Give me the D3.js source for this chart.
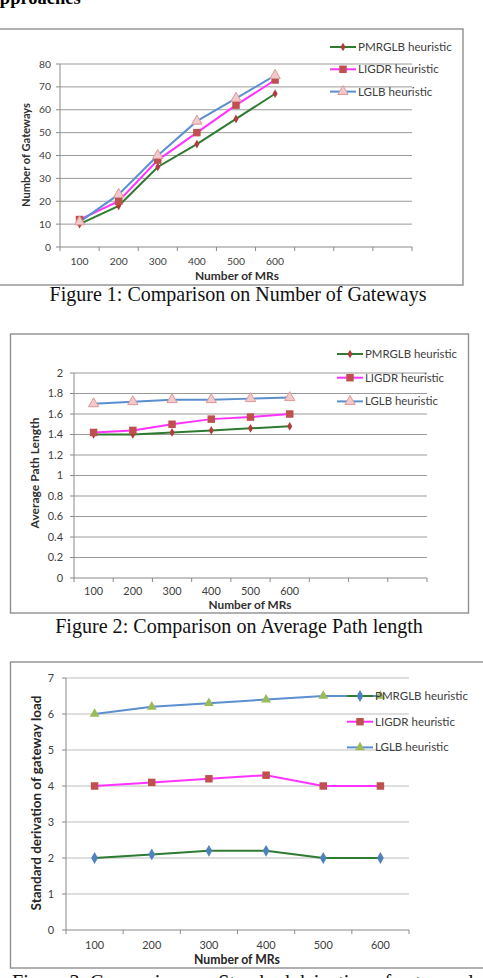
<!DOCTYPE html>
<html lang="en">
<head>
<meta charset="UTF-8"/>
<title>Gateway comparison</title>
<script src="https://d3js.org/d3.v7.min.js"></script>
<style>
  body { margin: 0; background: white; }
  svg text { font-family: Lato, "Open Sans", sans-serif; }
  svg text.serif { font-family: "Liberation Serif", "DejaVu Serif", serif; }
</style>
</head>
<body>
<script>
var w = 483;
var h = 978;

// shared categories and legend names
var mrs = ["100", "200", "300", "400", "500", "600"];
var names = ["PMRGLB heuristic", "LIGDR heuristic", "LGLB heuristic"];

// Figure 1: number of gateways
var gwPmrglb = [10, 18, 35, 45, 56, 67];
var gwLigdr  = [12, 20, 38, 50, 62, 73];
var gwLglb   = [11, 23, 40, 55, 65, 75];
var gwTicks  = [0, 10, 20, 30, 40, 50, 60, 70, 80];

// Figure 2: average path length
var plPmrglb = [1.4, 1.4, 1.42, 1.44, 1.46, 1.48];
var plLigdr  = [1.42, 1.44, 1.5, 1.55, 1.57, 1.6];
var plLglb   = [1.7, 1.72, 1.74, 1.74, 1.75, 1.76];
var plTicks  = [0, 0.2, 0.4, 0.6, 0.8, 1, 1.2, 1.4, 1.6, 1.8, 2];

// Figure 3: standard deviation of gateway load
var sdPmrglb = [2, 2.1, 2.2, 2.2, 2, 2];
var sdLigdr  = [4, 4.1, 4.2, 4.3, 4, 4];
var sdLglb   = [6, 6.2, 6.3, 6.4, 6.5, 6.5];
var sdTicks  = [0, 1, 2, 3, 4, 5, 6, 7];

var svg = d3.select("body")
            .append("svg")
            .attr("width", w)
            .attr("height", h)
            .style("display", "block");

// font size that makes a string come out at the wanted width
function fitSize(str, target, weight, cls) {
	var t = svg.append("text")
	           .attr("class", cls || null)
	           .style("font-size", "100px")
	           .style("font-weight", weight || "normal")
	           .text(str);
	var len = t.node().getComputedTextLength();
	t.remove();
	return 100 * target / len;
}

// cut-off heading at the very top
svg.append("text")
   .attr("class", "serif")
   .attr("x", -13.5)
   .attr("y", 4)
   .style("font-size", "18.5px")
   .style("font-weight", "bold")
   .text("Approaches");

function marker(g, kind, cx, cy, st) {
	var sym = d3.symbol().type(kind === "diamond" ? d3.symbolDiamond :
	                           kind === "square" ? d3.symbolSquare : d3.symbolTriangle)
	                     .size(st.size);
	g.append("path")
	 .attr("d", sym())
	 .attr("transform", "translate(" + cx + "," + cy + ")")
	 .attr("fill", st.fill)
	 .attr("stroke", st.mstroke || "none")
	 .attr("stroke-width", 1);
}

function drawChart(c) {
	var g = svg.append("g");

	var tickSize = fitSize("100", c.fit.tick);
	var xtSize = fitSize("Number of MRs", c.fit.xTitle, "bold");
	var ytSize = fitSize(c.yLabel, c.fit.yTitle, "bold");
	var legSize = fitSize(names[c.fit.legendRef], c.fit.legend);
	var capSize = fitSize(c.capRef, c.fit.caption, "normal", "serif");

	g.append("rect")
	 .attr("x", c.box[0]).attr("y", c.box[1])
	 .attr("width", c.box[2]).attr("height", c.box[3])
	 .attr("fill", "none")
	 .attr("stroke", "#8f8f8f")
	 .attr("stroke-width", 1.4);

	var slots = mrs.concat(d3.range(c.empty).map(function(i) { return "e" + i; }));
	var x = d3.scaleBand().domain(slots).range([c.left, c.right]);
	var y = d3.scaleLinear().domain([0, d3.max(c.ticks)]).range([c.bottom, c.top]);
	var bw = x.bandwidth();

	// gridlines
	g.selectAll(".grid")
	 .data(c.ticks.slice(1))
	 .enter()
	 .append("line")
	 .attr("x1", c.left).attr("x2", c.right)
	 .attr("y1", function(d) { return y(d); })
	 .attr("y2", function(d) { return y(d); })
	 .attr("stroke", c.grid)
	 .attr("stroke-width", 1);

	// axes
	g.append("line")
	 .attr("x1", c.left).attr("x2", c.left)
	 .attr("y1", y(d3.max(c.ticks))).attr("y2", y(0))
	 .attr("stroke", c.axis);
	g.append("line")
	 .attr("x1", c.left).attr("x2", c.right)
	 .attr("y1", y(0)).attr("y2", y(0))
	 .attr("stroke", c.axis);

	var bounds = slots.map(function(s) { return x(s); }).concat([c.right]);
	g.selectAll(".xtick")
	 .data(bounds)
	 .enter()
	 .append("line")
	 .attr("x1", function(d) { return d; }).attr("x2", function(d) { return d; })
	 .attr("y1", y(0)).attr("y2", y(0) + 4)
	 .attr("stroke", c.axis);

	g.selectAll(".ytick")
	 .data(c.ticks)
	 .enter()
	 .append("line")
	 .attr("x1", c.left - 4).attr("x2", c.left)
	 .attr("y1", function(d) { return y(d); })
	 .attr("y2", function(d) { return y(d); })
	 .attr("stroke", c.axis);

	// tick labels
	g.selectAll(".ylab")
	 .data(c.ticks)
	 .enter()
	 .append("text")
	 .attr("x", c.left - c.ylabGap)
	 .attr("y", function(d) { return y(d); })
	 .attr("dy", "0.35em")
	 .attr("text-anchor", "end")
	 .attr("fill", c.textColor)
	 .style("font-size", tickSize + "px")
	 .text(function(d) { return String(+d.toFixed(1)); });

	g.selectAll(".xlab")
	 .data(mrs)
	 .enter()
	 .append("text")
	 .attr("x", function(d) { return x(d) + bw / 2; })
	 .attr("y", c.xlabY)
	 .attr("dy", "0.35em")
	 .attr("text-anchor", "middle")
	 .attr("fill", c.textColor)
	 .style("font-size", tickSize + "px")
	 .text(function(d) { return d; });

	// axis titles
	g.append("text")
	 .attr("x", c.xTitle[0]).attr("y", c.xTitle[1])
	 .attr("dy", "0.35em")
	 .attr("text-anchor", "middle")
	 .attr("fill", c.titleColor)
	 .style("font-size", xtSize + "px")
	 .style("font-weight", "bold")
	 .text("Number of MRs");

	g.append("text")
	 .attr("transform", "translate(" + c.yTitle[0] + "," + c.yTitle[1] + ") rotate(-90)")
	 .attr("dy", "0.35em")
	 .attr("text-anchor", "middle")
	 .attr("fill", c.titleColor)
	 .style("font-size", ytSize + "px")
	 .style("font-weight", "bold")
	 .text(c.yLabel);

	// series
	var line = d3.line()
	             .x(function(d, i) { return x(mrs[i]) + bw / 2; })
	             .y(function(d) { return y(d); });

	c.series.forEach(function(s, k) {
		var st = c.styles[k];
		g.append("path")
		 .datum(s)
		 .attr("d", line)
		 .attr("fill", "none")
		 .attr("stroke", st.line)
		 .attr("stroke-width", 2);
	});
	c.series.forEach(function(s, k) {
		var st = c.styles[k];
		s.forEach(function(v, i) {
			marker(g, st.kind, x(mrs[i]) + bw / 2, y(v), st);
		});
	});

	// legend
	names.forEach(function(n, k) {
		var st = c.styles[k];
		var ly = c.legend[1] + k * c.legend[2];
		var lx = c.legend[0];
		g.append("line")
		 .attr("x1", lx).attr("x2", lx + 26)
		 .attr("y1", ly).attr("y2", ly)
		 .attr("stroke", st.line)
		 .attr("stroke-width", 2);
		marker(g, st.kind, lx + 13, ly, st);
		g.append("text")
		 .attr("x", lx + 28).attr("y", ly)
		 .attr("dy", "0.35em")
		 .attr("fill", c.textColor)
		 .style("font-size", legSize + "px")
		 .text(n);
	});

	// caption
	g.append("text")
	 .attr("class", "serif")
	 .attr("x", c.caption[0]).attr("y", c.caption[1])
	 .attr("text-anchor", c.caption[2])
	 .attr("fill", "#111")
	 .style("font-size", capSize + "px")
	 .text(c.caption[3]);
}

var styles12 = [
	{ kind: "diamond", line: "#2e7b31", fill: "#b23a3a", size: 22 },
	{ kind: "square", line: "#ff33ff", fill: "#c0504d", size: 56 },
	{ kind: "triangle", line: "#5b8fcf", fill: "#f4c9c9", mstroke: "#d99a9a", size: 46 }
];

var cap2 = "Figure 2: Comparison on Average Path length";

drawChart({
	box: [-2, 29, 465, 256],
	left: 60, right: 412, top: 64, bottom: 247, empty: 3,
	ticks: gwTicks,
	series: [gwPmrglb, gwLigdr, gwLglb],
	styles: styles12,
	grid: "#9a9a9a", axis: "#8a8a8a",
	textColor: "#404040", titleColor: "#303030",
	fit: { tick: 18, xTitle: 84, yTitle: 104, legend: 94, legendRef: 0, caption: 377 },
	capRef: "Figure 1: Comparison on Number of Gateways",
	ylabGap: 9,
	xlabY: 261.5, xTitle: [237, 275.5], yTitle: [26, 155],
	yLabel: "Number of Gateways",
	legend: [330, 47, 22.3],
	caption: [238, 301, "middle", "Figure 1: Comparison on Number of Gateways"]
});

drawChart({
	box: [10.5, 334, 458, 279],
	left: 74, right: 427, top: 373, bottom: 578, empty: 3,
	ticks: plTicks,
	series: [plPmrglb, plLigdr, plLglb],
	styles: styles12,
	grid: "#9a9a9a", axis: "#8a8a8a",
	textColor: "#404040", titleColor: "#303030",
	fit: { tick: 19, xTitle: 83, yTitle: 111, legend: 92, legendRef: 0, caption: 368 },
	capRef: cap2,
	ylabGap: 11,
	xlabY: 591.5, xTitle: [250, 605], yTitle: [35, 473],
	yLabel: "Average Path Length",
	legend: [337, 354, 23.7],
	caption: [239, 633, "middle", cap2]
});

drawChart({
	box: [10.5, 662, 480, 306],
	left: 66, right: 409, top: 678, bottom: 930, empty: 0,
	ticks: sdTicks,
	series: [sdPmrglb, sdLigdr, sdLglb],
	styles: [
		{ kind: "diamond", line: "#2e7b31", fill: "#4f81bd", size: 40 },
		{ kind: "square", line: "#ff33ff", fill: "#c0504d", size: 56 },
		{ kind: "triangle", line: "#5b8fcf", fill: "#9bbb59", size: 42 }
	],
	grid: "#bdbdbd", axis: "#8a8a8a",
	textColor: "#404040", titleColor: "#262626",
	fit: { tick: 19, xTitle: 86, yTitle: 215, legend: 80, legendRef: 1, caption: 368 },
	capRef: cap2,
	ylabGap: 12,
	xlabY: 945.5, xTitle: [237, 959.5], yTitle: [36, 803],
	yLabel: "Standard derivation of gateway load",
	legend: [347, 696, 25.7],
	caption: [12, 989, "start", "Figure 3: Comparison on Standard deivation of gateway load"]
});
</script>
</body>
</html>
